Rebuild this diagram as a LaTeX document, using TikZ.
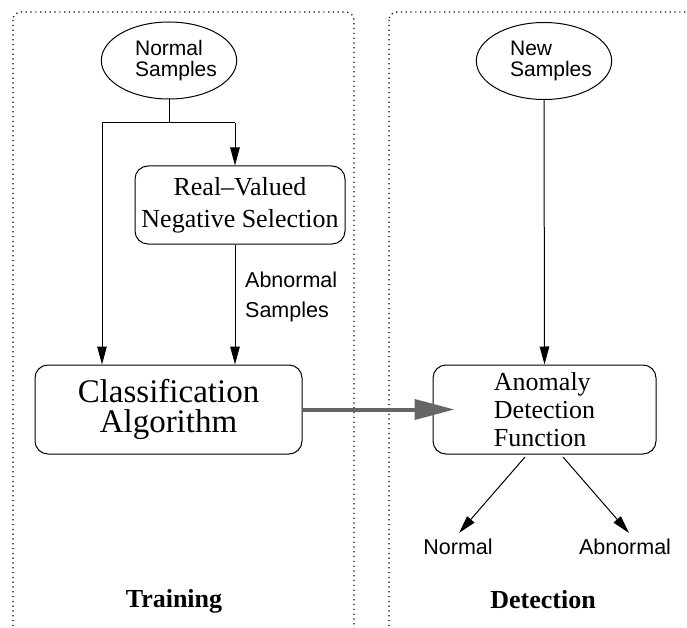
\documentclass[tikz,border=0pt]{standalone}
\usepackage{fontspec}
\setmainfont{Liberation Serif}
\newfontfamily\hv{Liberation Sans}
\usetikzlibrary{arrows.meta,shapes.geometric}
\begin{document}
\begin{tikzpicture}[x=1pt,y=-1pt,
 frame/.style={draw, line width=1.2pt, dash pattern=on 1.2pt off 3.6pt, rounded corners=8pt},
 ell/.style={draw, ellipse, line width=1pt, minimum width=134pt, minimum height=77pt, inner sep=0pt, align=left, font=\hv\fontsize{21}{20.5}\selectfont},
 box/.style={draw, rounded corners=13pt, line width=1pt, inner sep=0pt},
 arr/.style={line width=1pt, -{Triangle[length=18pt,width=9.5pt]}},
 ln/.style={line width=1pt},
 sans/.style={font=\hv\fontsize{21.5}{30}\selectfont, inner sep=0pt},
 title/.style={font=\bfseries\fontsize{26}{30}\selectfont, inner sep=0pt, anchor=base}
]
\useasboundingbox (0,0) rectangle (687,628);
\clip (0,0) rectangle (687,628);
% frames
\draw[frame] (13,12) rectangle (354,640);
\draw[frame] (389,12) rectangle (720,640);
% nodes
\node[ell] (ns) at (169,60.5) {\hspace*{14pt}Normal\\\hspace*{14pt}Samples};
\node[ell] (nw) at (544,61) {\hspace*{14pt}New\\\hspace*{14pt}Samples};
\node[box, minimum width=210pt, minimum height=78pt, align=center, font=\fontsize{26}{32}\selectfont] (rv) at (240,205) {Real–Valued\\Negative Selection};
\node[box, minimum width=267pt, minimum height=89pt, align=center, font=\fontsize{33}{30}\selectfont] (ca) at (168.5,409.5) {Classification\\Algorithm};
\node[box, minimum width=223pt, minimum height=89pt, align=left, font=\fontsize{26}{28}\selectfont] (ad) at (544.5,409.5) {Anomaly\\Detection\\Function};
\node[sans, align=left, anchor=north west] (abs) at (245,272) {Abnormal\\Samples};
\node[sans, anchor=base] (onrm) at (458,554) {Normal};
\node[sans, anchor=base] (oabn) at (625,554) {Abnormal};
\node[title] (tr) at (174,607) {Training};
\node[title] (dt) at (543,608) {Detection};
% connectors
\coordinate (jl) at (102,123);
\coordinate (jr) at (235,123);
\draw[ln] (ns.south) -- (ns.south |- jl);
\draw[ln] (jl) -- (jr);
\draw[arr] (jl) -- (jl |- ca.north);
\draw[arr] (jr) -- (jr |- rv.north);
\draw[arr] (jr |- rv.south) -- (jr |- ca.north);
\draw[arr] (nw.south) -- (ad.north);
\draw[line width=4pt, black!60, -{Triangle[length=40pt,width=20pt]}, shorten >=-22pt] (ca.east) -- (ad.west);
\coordinate (d1) at (525,457);
\coordinate (d2) at (563,457);
\coordinate (t1) at (459,533);
\coordinate (t2) at (629,533);
\draw[arr] (d1) -- (t1);
\draw[arr] (d2) -- (t2);
\end{tikzpicture}
\end{document}
